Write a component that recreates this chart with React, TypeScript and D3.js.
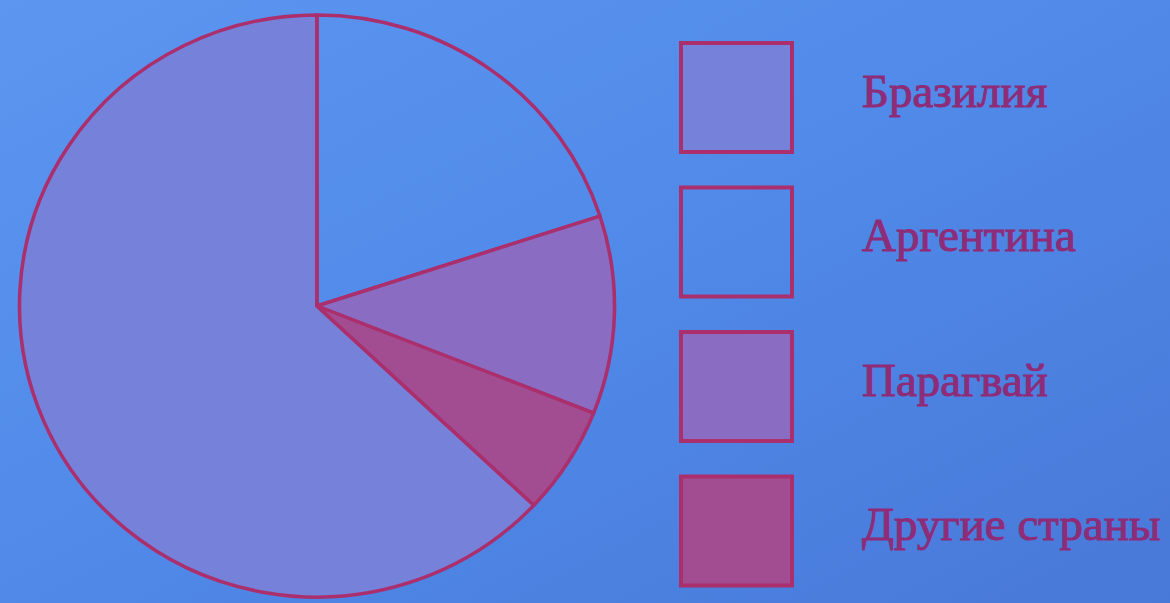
import { useRef, useEffect } from 'react'
import * as d3 from 'd3'

const WIDTH = 1170
const HEIGHT = 603

// legend order; pie is drawn clockwise from Brazil's start so Argentina begins at 12 o'clock
const countries = ['Бразилия', 'Аргентина', 'Парагвай', 'Другие страны']
const shares = [63, 20, 11, 6]
const fills = ['#7681d9', 'none', '#8a6cc2', '#a24c92']

const OUTLINE = '#ab2f6c'
const TEXT = '#8e2c78'

const PIE = { cx: 317, cy: 306, r: 294 }
const LEGEND = { x: 681, boxW: 111, boxH: 109, top: 43, step: 144.5, textX: 862 }

export default function App() {
  const svgRef = useRef<SVGSVGElement>(null)

  useEffect(() => {
    if (!svgRef.current) return
    const svg = d3.select(svgRef.current)
    svg.selectAll('*').remove()

    const defs = svg.append('defs')
    const grad = defs
      .append('linearGradient')
      .attr('id', 'bg')
      .attr('x1', '0')
      .attr('y1', '0')
      .attr('x2', '1')
      .attr('y2', '1')
    grad.append('stop').attr('offset', '0').attr('stop-color', '#5c96f0')
    grad.append('stop').attr('offset', '0.5').attr('stop-color', '#5089e8')
    grad.append('stop').attr('offset', '1').attr('stop-color', '#4878d8')

    svg.append('rect').attr('width', WIDTH).attr('height', HEIGHT).attr('fill', 'url(#bg)')

    const data = countries.map((name, i) => ({ name, value: shares[i], fill: fills[i] }))
    const total = d3.sum(shares)
    const start = -(shares[0] / total) * Math.PI * 2

    const pie = d3
      .pie<{ name: string; value: number; fill: string }>()
      .sort(null)
      .value((d) => d.value)
      .startAngle(start)
      .endAngle(start + Math.PI * 2)

    const arc = d3
      .arc<d3.PieArcDatum<{ name: string; value: number; fill: string }>>()
      .innerRadius(0)
      .outerRadius(PIE.r)

    const g = svg.append('g').attr('transform', `translate(${PIE.cx},${PIE.cy}) scale(1.012,0.99)`)

    g.selectAll('path')
      .data(pie(data))
      .join('path')
      .attr('d', arc)
      .attr('fill', (d) => d.data.fill)
      .attr('stroke', OUTLINE)
      .attr('stroke-width', 3.5)
      .attr('stroke-linejoin', 'round')

    // Legend
    const legend = svg.append('g')
    const rows = legend
      .selectAll('g')
      .data(data)
      .join('g')
      .attr('transform', (_d, i) => `translate(0,${LEGEND.top + i * LEGEND.step})`)

    rows
      .append('rect')
      .attr('x', LEGEND.x)
      .attr('y', 0)
      .attr('width', LEGEND.boxW)
      .attr('height', LEGEND.boxH)
      .attr('fill', (d) => d.fill)
      .attr('stroke', OUTLINE)
      .attr('stroke-width', 4)

    rows
      .append('text')
      .attr('x', LEGEND.textX)
      .attr('y', LEGEND.boxH / 2 + 9)
      .attr('fill', TEXT)
      .attr('stroke', TEXT)
      .attr('stroke-width', 1)
      .style('font-family', '"Liberation Serif", "DejaVu Serif", serif')
      .style('font-size', '47px')
      .text((d) => d.name)
  }, [])

  return (
    <svg
      ref={svgRef}
      width={WIDTH}
      height={HEIGHT}
      style={{ position: 'absolute', left: 0, top: 0, display: 'block' }}
    />
  )
}
